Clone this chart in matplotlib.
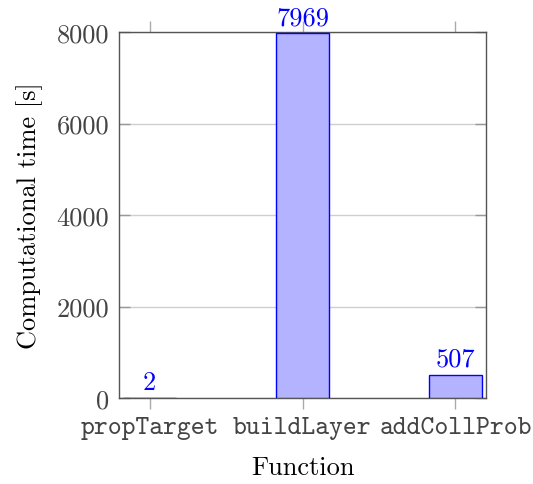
import matplotlib
matplotlib.use("Agg")
import matplotlib.pyplot as plt

functions = ["propTarget", "buildLayer", "addCollProb"]
times = [2, 7969, 507]
yticks = [0, 2000, 4000, 6000, 8000]

plt.rcParams['font.family'] = 'cmr10'
plt.rcParams['font.size'] = 19
plt.rcParams['axes.unicode_minus'] = False
plt.rcParams['axes.formatter.use_mathtext'] = False

fig = plt.figure(figsize=(5.33, 4.85), dpi=100)
ax = fig.add_axes([119 / 533, 86 / 485, 367 / 533, 366 / 485])

pos = list(range(len(functions)))
bars = ax.bar(pos, times, width=0.35, color=(0.7, 0.7, 1.0), edgecolor='blue', linewidth=1.0, zorder=3)
for x, v in zip(pos, times):
    ax.annotate(str(v), (x, v), xytext=(0, 3), textcoords='offset points',
                ha='center', va='bottom', color='blue', fontsize=19)

ax.set_xlim(-0.2, 2.2)
ax.set_ylim(0, 8000)
ax.set_xticks(pos)
ax.set_xticklabels(functions, family='cmtt10', color='#444444')
ax.set_yticks(yticks)
ax.set_yticklabels([str(t) for t in yticks], color='#444444')

ax.yaxis.grid(True, color='#cfcfcf', linewidth=1.0, zorder=0)
ax.set_axisbelow(True)
for s in ax.spines.values():
    s.set_color('#555555')
    s.set_linewidth(1.0)

ax.tick_params(axis='x', direction='out', top=True, length=8, width=1, color='#aaaaaa', pad=5)
ax.tick_params(axis='y', direction='in', right=True, length=8, width=1, color='#999999', pad=7)

ax.set_xlabel("Function", labelpad=12)
ax.set_ylabel("Computational time [s]", labelpad=10)

fig.savefig("out.png", dpi=100)
